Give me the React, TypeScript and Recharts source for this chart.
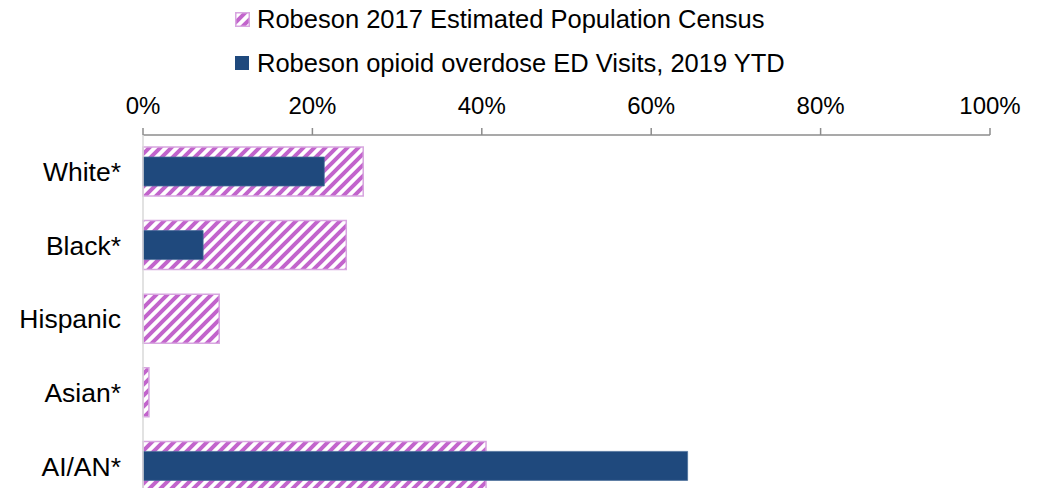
import { BarChart, Bar, XAxis, YAxis, Legend } from "recharts";

const categories = ["White*", "Black*", "Hispanic", "Asian*", "AI/AN*"];
const censusShare = [0.26, 0.24, 0.09, 0.007, 0.405];
const edVisitShare = [0.214, 0.071, 0, 0, 0.643];
const xTicks = [0, 0.2, 0.4, 0.6, 0.8, 1];

const CENSUS_LABEL = "Robeson 2017 Estimated Population Census";
const ED_LABEL = "Robeson opioid overdose ED Visits, 2019 YTD";

const data = categories.map((name, i) => ({
  name,
  census: censusShare[i],
  ed: edVisitShare[i],
}));

const FONT = "'Liberation Sans', Arial, sans-serif";
const STRIPE = "#c264cc";
const STRIPE_BORDER = "#d8a6e0";
const NAVY = "#1f497d";

const pct = (v: number) => `${Math.round(v * 100)}%`;

const LegendBox = () => (
  <div style={{ position: "relative", height: 80, fontFamily: FONT, fontSize: 25.5, color: "#000" }}>
    <div style={{ position: "absolute", left: 235, top: 5, display: "flex", alignItems: "center" }}>
      <svg width={15} height={15} style={{ marginRight: 7 }}>
        <rect x={0.75} y={0.75} width={13.5} height={13.5} fill="url(#hatch)" stroke={STRIPE_BORDER} strokeWidth={1.5} />
      </svg>
      <span>{CENSUS_LABEL}</span>
    </div>
    <div style={{ position: "absolute", left: 235, top: 49, display: "flex", alignItems: "center" }}>
      <svg width={15} height={15} style={{ marginRight: 7 }}>
        <rect x={0} y={0} width={14} height={14} fill={NAVY} />
      </svg>
      <span>{ED_LABEL}</span>
    </div>
  </div>
);

export default function App() {
  return (
    <div style={{ position: "absolute", left: 0, top: 0, width: 1046, height: 488, overflow: "hidden", background: "#fff" }}>
      <BarChart
        width={1046}
        height={503}
        data={data}
        layout="vertical"
        margin={{ top: 15, right: 56, bottom: 0, left: 0 }}
      >
        <defs>
          <pattern id="hatch" patternUnits="userSpaceOnUse" width={11} height={11}>
            <rect width={11} height={11} fill="#fff" />
            <path d="M-2.75,2.75 l5.5,-5.5 M0,11 l11,-11 M8.25,13.75 l5.5,-5.5" stroke={STRIPE} strokeWidth={4} />
          </pattern>
        </defs>
        <Legend verticalAlign="top" content={() => <LegendBox />} wrapperStyle={{ top: 0, left: 0, width: 1046 }} />
        <XAxis
          type="number"
          orientation="top"
          domain={[0, 1]}
          ticks={xTicks}
          tickFormatter={pct}
          height={40}
          axisLine={{ stroke: "#8c8c8c", strokeWidth: 1.5 }}
          tickLine={{ stroke: "#8c8c8c", strokeWidth: 1.5 }}
          tickSize={7}
          tickMargin={14}
          tick={{ fill: "#000", fontSize: 24, fontFamily: FONT }}
          interval={0}
        />
        <YAxis
          yAxisId="census"
          type="category"
          dataKey="name"
          width={143}
          axisLine={{ stroke: "#d9d9d9", strokeWidth: 1.5 }}
          tickLine={false}
          tickSize={0}
          tickMargin={22}
          tick={{ fill: "#000", fontSize: 26.5, fontFamily: FONT }}
        />
        <YAxis yAxisId="ed" type="category" dataKey="name" hide />
        <Bar
          yAxisId="census"
          dataKey="census"
          name={CENSUS_LABEL}
          barSize={49}
          fill="url(#hatch)"
          stroke={STRIPE_BORDER}
          strokeWidth={1.5}
          isAnimationActive={false}
        />
        <Bar
          yAxisId="ed"
          dataKey="ed"
          name={ED_LABEL}
          barSize={29}
          fill={NAVY}
          stroke="#4a6d9a"
          strokeWidth={0.75}
          isAnimationActive={false}
        />
      </BarChart>
    </div>
  );
}
